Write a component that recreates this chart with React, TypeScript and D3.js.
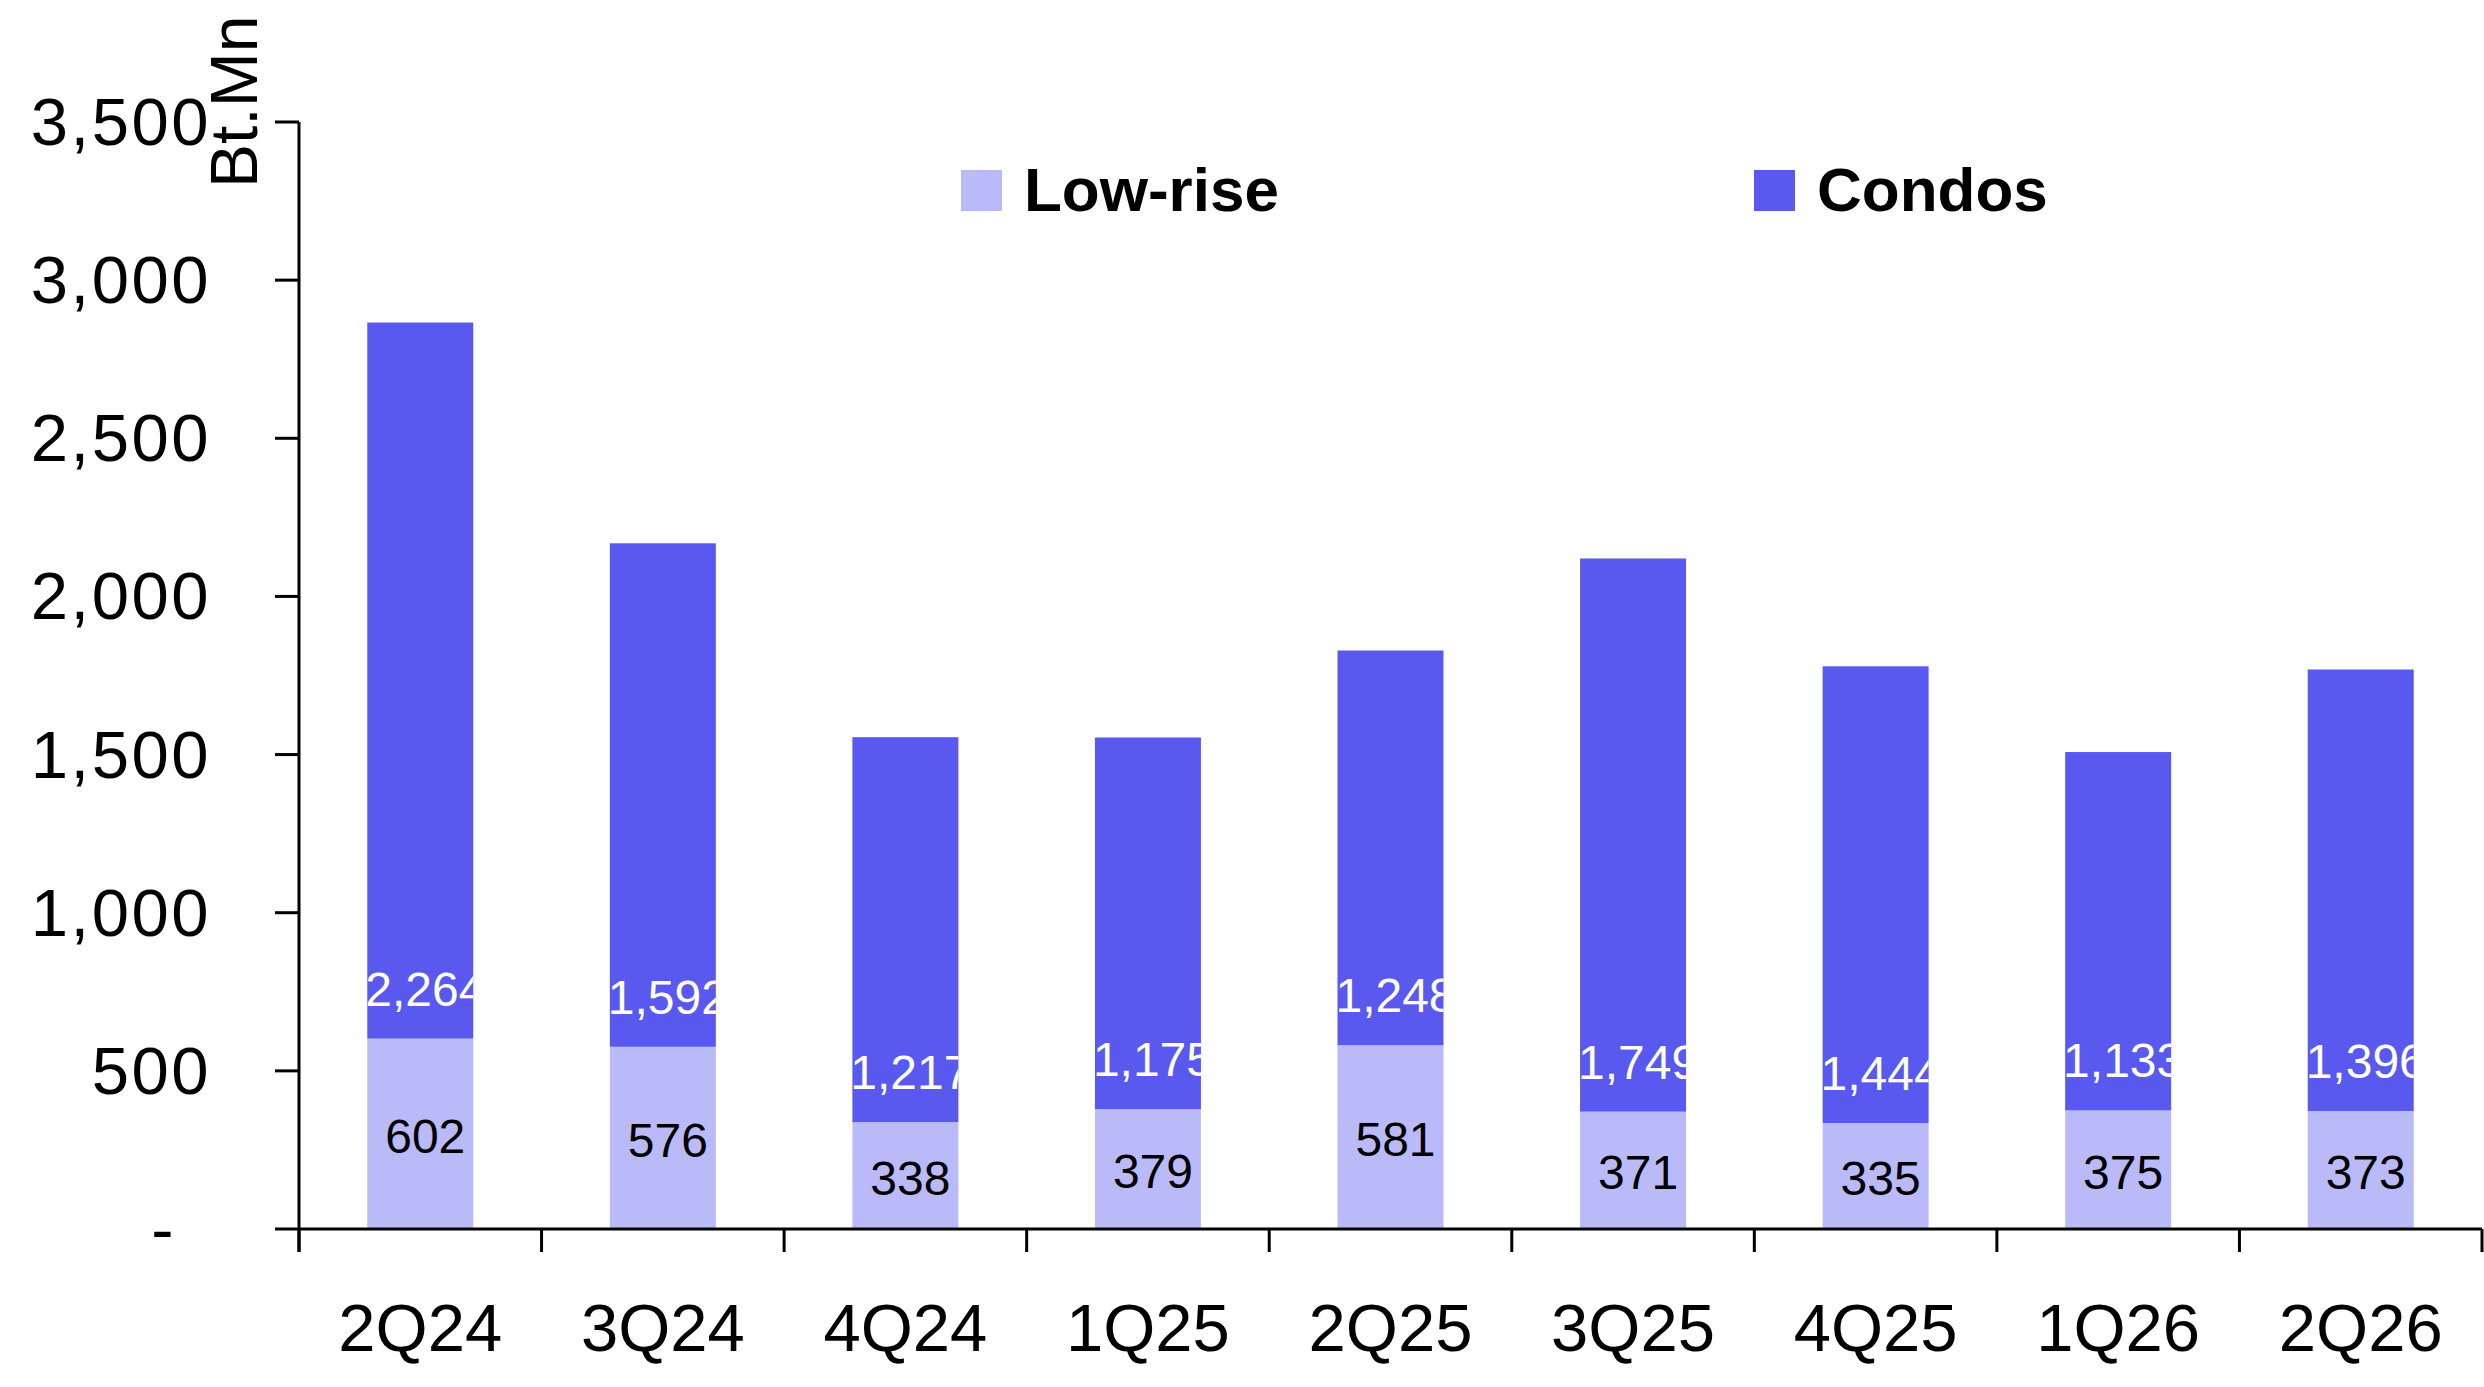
import React, { useEffect, useRef } from 'react';
import * as d3 from 'd3';

const quarters = ['2Q24', '3Q24', '4Q24', '1Q25', '2Q25', '3Q25', '4Q25', '1Q26', '2Q26'];
const lowRise = [602, 576, 338, 379, 581, 371, 335, 375, 373];
const condos = [2264, 1592, 1217, 1175, 1248, 1749, 1444, 1133, 1396];
const yTicks = [0, 500, 1000, 1500, 2000, 2500, 3000, 3500];

const LOW_COLOR = '#babaf8';
const CONDO_COLOR = '#5959ef';
const FONT = '"Liberation Sans", Arial, sans-serif';

const App = () => {
  const ref = useRef<SVGSVGElement>(null);

  useEffect(() => {
    document.body.style.margin = '0';
    const svg = d3.select(ref.current);
    svg.selectAll('*').remove();

    const width = 2484;
    const height = 1387;
    const margin = { top: 122, right: 2, bottom: 158, left: 299 };

    svg.attr('width', width).attr('height', height).style('font-family', FONT);

    const x = d3.scaleBand<string>()
      .domain(quarters)
      .range([margin.left, width - margin.right])
      .paddingInner(0.563)
      .paddingOuter(0.2815);

    const y = d3.scaleLinear()
      .domain([0, 3500])
      .range([height - margin.bottom, margin.top]);

    const step = x.step();
    const rows = quarters.map((q, i) => ({ q, low: lowRise[i], condo: condos[i] }));

    const g = svg.append('g');

    // Stacked bars
    const bars = g.selectAll('g.bar')
      .data(rows)
      .enter()
      .append('g')
      .attr('class', 'bar');

    bars.append('rect')
      .attr('x', d => x(d.q)!)
      .attr('width', x.bandwidth())
      .attr('y', d => y(d.low))
      .attr('height', d => y(0) - y(d.low))
      .attr('fill', LOW_COLOR);

    bars.append('rect')
      .attr('x', d => x(d.q)!)
      .attr('width', x.bandwidth())
      .attr('y', d => y(d.low + d.condo))
      .attr('height', d => y(d.low) - y(d.low + d.condo))
      .attr('fill', CONDO_COLOR);

    // Clip the condo labels to their bar
    const defs = svg.append('defs');
    rows.forEach((d, i) => {
      defs.append('clipPath')
        .attr('id', `clip-${i}`)
        .append('rect')
        .attr('x', x(d.q)!)
        .attr('width', x.bandwidth())
        .attr('y', y(d.low + d.condo))
        .attr('height', y(0) - y(d.low + d.condo));
    });

    // Value labels
    bars.append('text')
      .attr('x', d => x(d.q)! + x.bandwidth() / 2 + 5)
      .attr('y', d => (y(0) + y(d.low)) / 2 + 19)
      .attr('text-anchor', 'middle')
      .attr('font-size', 48)
      .attr('fill', '#000')
      .text(d => d3.format(',')(d.low));

    bars.append('text')
      .attr('clip-path', (d, i) => `url(#clip-${i})`)
      .attr('x', d => x(d.q)! + x.bandwidth() / 2 + 5)
      .attr('y', d => y(d.low) - 50 + 17)
      .attr('text-anchor', 'middle')
      .attr('font-size', 48)
      .attr('fill', '#fff')
      .text(d => d3.format(',')(d.condo));

    // Axes
    const axisColor = '#000';
    const x0 = margin.left;
    const x1 = width - margin.right;
    const base = y(0);

    g.append('line')
      .attr('x1', x0).attr('x2', x1)
      .attr('y1', base).attr('y2', base)
      .attr('stroke', axisColor).attr('stroke-width', 3);

    d3.range(quarters.length + 1).forEach(i => {
      const tx = x0 + i * step;
      g.append('line')
        .attr('x1', tx).attr('x2', tx)
        .attr('y1', base).attr('y2', base + 23)
        .attr('stroke', axisColor).attr('stroke-width', 3);
    });

    g.append('line')
      .attr('x1', x0).attr('x2', x0)
      .attr('y1', y(3500)).attr('y2', base + 23)
      .attr('stroke', axisColor).attr('stroke-width', 3);

    yTicks.forEach(t => {
      g.append('line')
        .attr('x1', x0 - 24).attr('x2', x0)
        .attr('y1', y(t)).attr('y2', y(t))
        .attr('stroke', axisColor).attr('stroke-width', 3);
      g.append('text')
        .attr('x', t === 0 ? 176 : 211)
        .attr('y', y(t) + 23)
        .attr('text-anchor', 'end')
        .attr('font-size', 67)
        .attr('letter-spacing', 2.5)
        .attr('fill', '#000')
        .text(t === 0 ? '-' : d3.format(',')(t));
    });

    // Category labels
    g.selectAll('text.cat')
      .data(quarters)
      .enter()
      .append('text')
      .attr('class', 'cat')
      .attr('x', d => x(d)! + x.bandwidth() / 2)
      .attr('y', 1351)
      .attr('text-anchor', 'middle')
      .attr('font-size', 67)
      .attr('fill', '#000')
      .text(d => d);

    // Unit label
    svg.append('text')
      .attr('transform', 'translate(257, 188) rotate(-90)')
      .attr('font-size', 66)
      .attr('fill', '#000')
      .text('Bt.Mn');

    // Legend
    const legend = [
      { name: 'Low-rise', color: LOW_COLOR, x: 961 },
      { name: 'Condos', color: CONDO_COLOR, x: 1754 },
    ];
    const lg = svg.append('g');
    legend.forEach(l => {
      lg.append('rect')
        .attr('x', l.x).attr('y', 170)
        .attr('width', 41).attr('height', 41)
        .attr('fill', l.color);
      lg.append('text')
        .attr('x', l.x + 63)
        .attr('y', 211)
        .attr('font-size', 62)
        .attr('font-weight', 'bold')
        .attr('fill', '#000')
        .text(l.name);
    });
  }, []);

  return <svg ref={ref} style={{ display: 'block' }}></svg>;
};

export default App;
